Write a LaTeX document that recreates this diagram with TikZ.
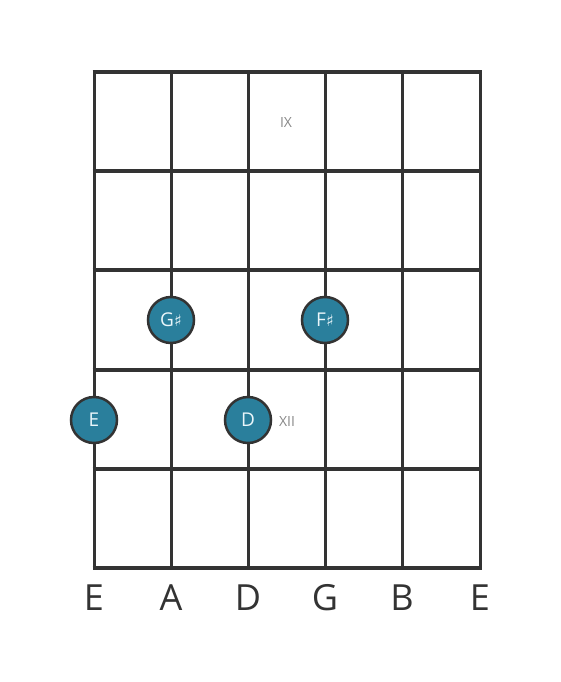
\documentclass[tikz,border=0pt]{standalone}
\usepackage{fontspec}
\setmainfont{Open Sans}
\newfontfamily\symfont{DejaVu Sans}
\definecolor{linec}{HTML}{333333}
\definecolor{notefill}{HTML}{2A7F9C}
\definecolor{notetext}{HTML}{EAF6FA}
\definecolor{markc}{HTML}{888888}
\begin{document}
\begin{tikzpicture}[x=1pt,y=-1pt,
  fretline/.style={draw=linec,line width=4.5pt},
  stringline/.style={draw=linec,line width=3pt},
  note/.style={circle,fill=notefill,draw=linec,line width=2.5pt,minimum size=46pt,inner sep=0pt,text=notetext,font=\fontsize{19}{19}\selectfont},
  strname/.style={text=linec,font=\fontsize{36}{36}\selectfont,inner sep=0pt},
  fretmark/.style={text=markc,font=\fontsize{14}{14}\selectfont,inner sep=0pt}]
\useasboundingbox (0,0) rectangle (560,682);
% strings
\foreach \x/\n in {94/s1,171/s2,248/s3,325/s4,402/s5,480/s6}{
  \coordinate (\n t) at (\x,72);
  \coordinate (\n b) at (\x,568);
  \draw[stringline] (\n t) -- (\n b);
}
% frets
\foreach \y/\n in {72/f0,171/f1,270/f2,370/f3,469/f4,568/f5}{
  \coordinate (\n l) at (92.5,\y);
  \coordinate (\n r) at (481.5,\y);
  \draw[fretline] (\n l) -- (\n r);
}
% fret markers
\node[fretmark] (ix) at (286,123) {IX};
\node[fretmark] (xii) at (287,421) {XII};
% notes
\node[note] (nE) at (94,420) {E};
\node[note] (nD) at (248,420) {D};
\node[note] (nGs) at (171,320) {G{\symfont\fontsize{16}{16}\selectfont ♯}};
\node[note] (nFs) at (325,320) {F{\symfont\fontsize{16}{16}\selectfont ♯}};
% string names
\foreach \x/\t/\n in {94/E/l1,171/A/l2,248/D/l3,325/G/l4,402/B/l5,480/E/l6}{
  \node[strname] (\n) at (\x,598) {\t};
}
\end{tikzpicture}
\end{document}
